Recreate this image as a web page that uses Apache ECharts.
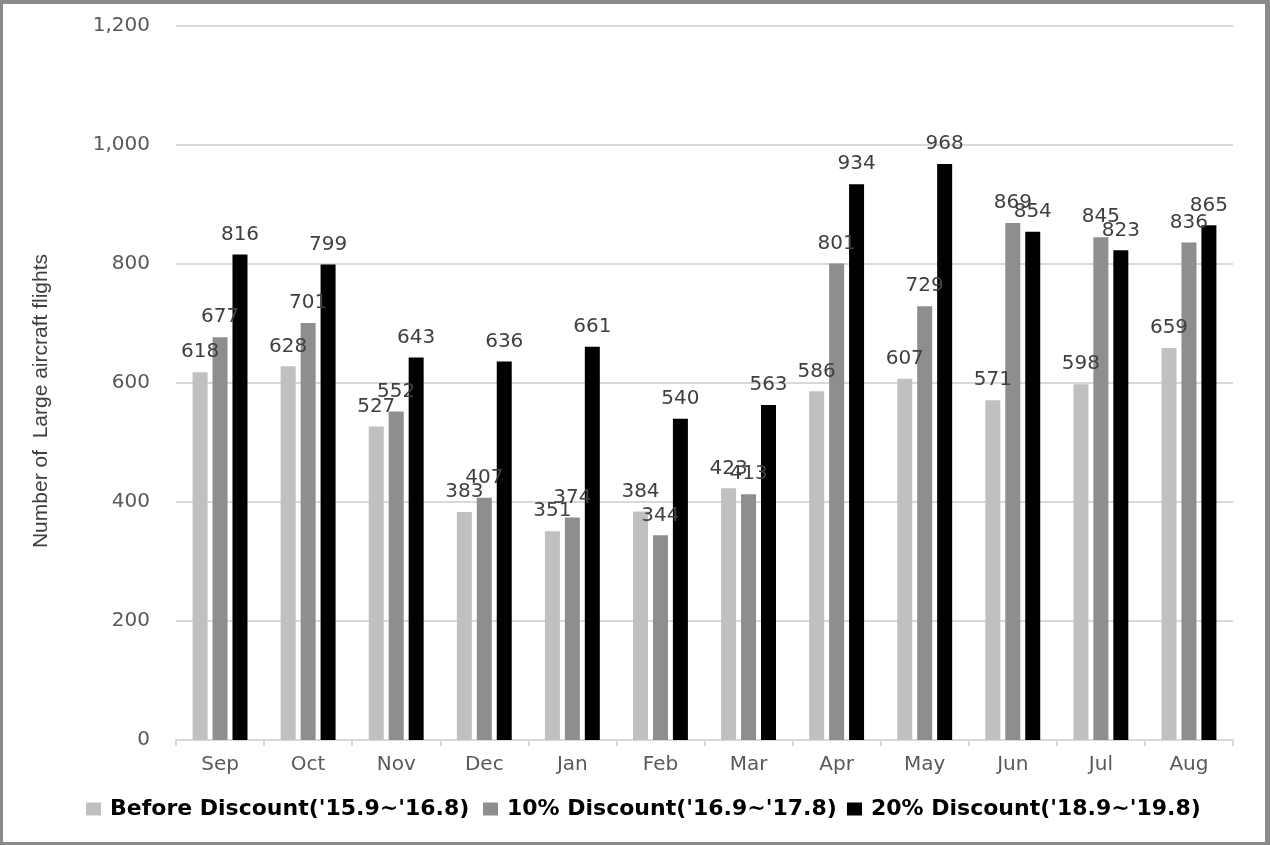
<!DOCTYPE html>
<html>
<head>
<meta charset="utf-8">
<script src="https://cdn.jsdelivr.net/npm/echarts@6/dist/echarts.min.js"></script>
<style>
  html, body { margin: 0; padding: 0; background: #fff; }
  #chart { position: absolute; left: 0; top: 0; width: 1270px; height: 845px; }
  #frame { position: absolute; left: 0; top: 0; width: 1270px; height: 845px; box-sizing: border-box;
           border-style: solid; border-color: #8a8a8a; border-width: 4px 5px 3px 3px; pointer-events: none; }
</style>
</head>
<body>
<div id="chart"></div>
<div id="frame"></div>
<script>
const months = ['Sep', 'Oct', 'Nov', 'Dec', 'Jan', 'Feb', 'Mar', 'Apr', 'May', 'Jun', 'Jul', 'Aug'];
const seriesNames = ["Before Discount('15.9~'16.8)", "10% Discount('16.9~'17.8)", "20% Discount('18.9~'19.8)"];
const beforeDiscount = [618, 628, 527, 383, 351, 384, 423, 586, 607, 571, 598, 659];
const discount10 = [677, 701, 552, 407, 374, 344, 413, 801, 729, 869, 845, 836];
const discount20 = [816, 799, 643, 636, 661, 540, 563, 934, 968, 854, 823, 865];
const yAxisTitle = 'Number of  Large aircraft flights';
const colors = ['#c0c0c0', '#8e8e8e', '#000000'];
const seriesData = [beforeDiscount, discount10, discount20];

const chart = echarts.init(document.getElementById('chart'), null, { renderer: 'canvas' });

const legendLefts = [81, 478, 842];
const legends = seriesNames.map((n, i) => ({
  data: [n],
  left: legendLefts[i],
  top: 793,
  itemWidth: 15,
  itemHeight: 13,
  icon: 'rect',
  textStyle: { fontFamily: 'DejaVu Sans', fontWeight: 'bold', fontSize: 22, color: '#000', padding: [0, 0, 0, 4] }
}));

const option = {
  animation: false,
  backgroundColor: '#fff',
  color: colors,
  legend: legends,
  grid: { left: 176, right: 37, top: 26, bottom: 105, containLabel: false },
  xAxis: {
    type: 'category',
    data: months,
    axisLine: { lineStyle: { color: '#d9d9d9', width: 2 } },
    axisTick: { show: true, length: 6, lineStyle: { color: '#d9d9d9', width: 2 } },
    axisLabel: { fontFamily: 'DejaVu Sans', fontSize: 20, color: '#595959', margin: 15 }
  },
  yAxis: {
    type: 'value',
    min: 0, max: 1200, interval: 200,
    name: yAxisTitle,
    nameLocation: 'middle',
    nameGap: 124,
    nameTextStyle: { fontFamily: 'Liberation Sans', fontSize: 21, color: '#404040', padding: [0, 36, 0, 0] },
    axisLine: { show: false },
    axisTick: { show: false },
    splitLine: { lineStyle: { color: '#d9d9d9', width: 2 } },
    axisLabel: {
      fontFamily: 'DejaVu Sans', fontSize: 20, color: '#595959', margin: 26,
      formatter: v => v.toLocaleString('en-US')
    }
  },
  series: seriesNames.map((n, i) => ({
    name: n,
    type: 'bar',
    data: seriesData[i],
    barWidth: 15,
    barGap: '33%',
    itemStyle: { color: colors[i] },
    label: {
      show: true, position: 'top', distance: 10,
      fontFamily: 'DejaVu Sans', fontSize: 20, color: '#404040'
    }
  }))
};
chart.setOption(option);
</script>
</body>
</html>
